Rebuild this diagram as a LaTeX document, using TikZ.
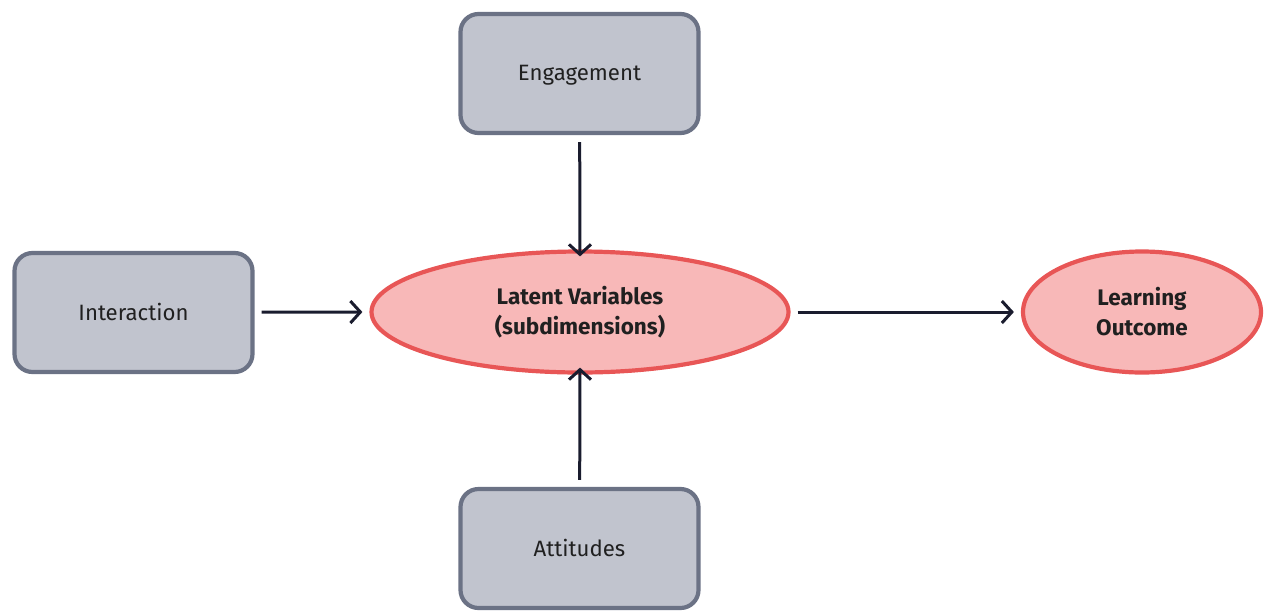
\documentclass[tikz,border=0pt]{standalone}
\usepackage{fontspec}
\setmainfont{Fira Sans}
\usetikzlibrary{shapes.geometric,arrows.meta}
\definecolor{boxfill}{HTML}{C1C4CE}
\definecolor{boxline}{HTML}{6B7285}
\definecolor{ovalfill}{HTML}{F8B8B8}
\definecolor{ovalline}{HTML}{E85656}
\definecolor{arrowcol}{HTML}{1A1C2E}
\definecolor{inkcol}{HTML}{202020}
\tikzset{
  factor/.style={draw=boxline, fill=boxfill, line width=4.2pt, rounded corners=18pt,
    minimum width=238pt, minimum height=119pt, font=\fontsize{22.2}{26}\selectfont, text=inkcol,
    text depth=2pt},
  latent/.style={ellipse, draw=ovalline, fill=ovalfill, line width=4.2pt, inner sep=0pt,
    font=\bfseries\fontsize{22.5}{30}\selectfont, align=center, text=inkcol},
  link/.style={draw=arrowcol, line width=3pt, shorten <=7pt,
    -{Straight Barb[length=10pt,width=22pt,line width=3pt]}}
}
\begin{document}
\begin{tikzpicture}[x=1pt,y=-1pt]
\useasboundingbox (0,0) rectangle (1265,611);
\node[factor] (eng) at (579.5,73.5) {Engagement};
\node[factor] (int) at (133.5,312.5) {Interaction};
\node[factor] (att) at (579.5,548.5) {Attitudes};
\node[latent, minimum width=417pt, minimum height=121pt] (lat) at (580,312) {Latent Variables\\(subdimensions)};
\node[latent, minimum width=238pt, minimum height=121pt] (out) at (1142,312) {Learning\\Outcome};
\draw[link] (eng) -- ([yshift=-7pt]lat.north);
\draw[link] (int) -- ([xshift=-7pt]lat.west);
\draw[link] (att) -- ([yshift=7pt]lat.south);
\draw[link] (lat) -- ([xshift=-7pt]out.west);
\end{tikzpicture}
\end{document}
